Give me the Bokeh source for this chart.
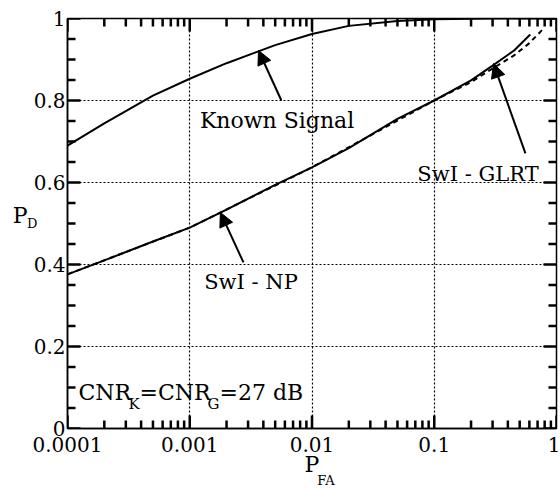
import math
from bokeh.plotting import figure
from bokeh.models import FixedTicker, LinearAxis, LogAxis, Label, Arrow, NormalHead
from bokeh.embed import file_html
from bokeh.resources import INLINE

# ---- data ----
x_lo, x_hi = 0.0001, 1.0
y_lo, y_hi = 0.0, 1.0
x_major = [0.0001, 0.001, 0.01, 0.1, 1.0]
x_major_labels = ["0.0001", "0.001", "0.01", "0.1", "1"]
x_minor = [m * d for d in [0.0001, 0.001, 0.01, 0.1] for m in range(2, 10)]
y_major = [0.0, 0.2, 0.4, 0.6, 0.8, 1.0]
y_major_labels = ["0", "0.2", "0.4", "0.6", "0.8", "1"]
y_minor = [0.05, 0.1, 0.15, 0.25, 0.3, 0.35, 0.45, 0.5, 0.55,
           0.65, 0.7, 0.75, 0.85, 0.9, 0.95]

known_pfa = [0.0001, 0.0002, 0.0005, 0.001, 0.002, 0.005, 0.01, 0.02, 0.05, 0.1, 0.3, 1.0]
known_pd = [0.690, 0.744, 0.812, 0.853, 0.891, 0.935, 0.962, 0.982, 0.994, 0.998, 1.0, 1.0]

np_pfa = [0.0001, 0.0002, 0.0005, 0.001, 0.002, 0.005, 0.01, 0.02, 0.05, 0.1, 0.2, 0.3, 0.45, 0.61]
np_pd = [0.376, 0.410, 0.456, 0.490, 0.534, 0.594, 0.637, 0.684, 0.755, 0.800, 0.849, 0.885, 0.922, 0.961]

glrt_pfa = [0.0001, 0.001, 0.01, 0.1, 0.2, 0.3, 0.45, 0.6, 0.78]
glrt_pd = [0.376, 0.490, 0.637, 0.800, 0.845, 0.878, 0.910, 0.940, 0.975]

SERIF = "DejaVu Serif"

p = figure(x_axis_type="log", x_range=(x_lo, x_hi), y_range=(y_lo, y_hi),
           frame_width=489, frame_height=410,
           min_border_left=67, min_border_right=4, min_border_top=18, min_border_bottom=71,
           output_backend="svg", toolbar_location=None,
           background_fill_color="white", border_fill_color="white")
p.outline_line_color = "black"
p.outline_line_width = 1.5

xt = FixedTicker(ticks=x_major, minor_ticks=x_minor)
yt = FixedTicker(ticks=y_major, minor_ticks=y_minor)

bottom = p.below[0]
left = p.left[0]
bottom.ticker = xt
left.ticker = yt
bottom.major_label_overrides = dict(zip(x_major, x_major_labels))
left.major_label_overrides = dict(zip(y_major, y_major_labels))
for ax in [bottom, left]:
    ax.major_label_text_font_size = "20px"
    ax.major_label_text_font = SERIF
    ax.major_label_text_color = "black"
    ax.axis_line_color = "black"
    ax.axis_line_width = 1.5
    ax.major_tick_in = 0
    ax.major_tick_out = 0
    ax.minor_tick_in = 0
    ax.minor_tick_out = 0
bottom.major_label_standoff = 8
left.major_label_standoff = 2

# x axis label "P" (its subscript is a second, label-only axis)
bottom.axis_label = "P"
bottom.axis_label_text_font = SERIF
bottom.axis_label_text_font_size = "22px"
bottom.axis_label_text_font_style = "normal"
bottom.axis_label_text_color = "black"
bottom.axis_label_standoff = -3

def text_axis(kind, side, tick, text, size, standoff):
    ax = kind(ticker=FixedTicker(ticks=[tick], minor_ticks=[]),
              major_label_overrides={tick: text},
              major_label_text_font=SERIF, major_label_text_font_size=size,
              major_label_text_color="black", major_label_standoff=standoff,
              axis_line_color=None, major_tick_line_color=None, minor_tick_line_color=None,
              major_tick_in=0, major_tick_out=0, minor_tick_in=0, minor_tick_out=0)
    p.add_layout(ax, side)
    return ax

text_axis(LogAxis, "below", 0.013, "FA", "13px", -7)
text_axis(LinearAxis, "left", 0.5, "D", "13px", -7)
text_axis(LinearAxis, "left", 0.52, "P", "22px", -3)

# dotted grid
p.xgrid.ticker = xt
p.ygrid.ticker = yt
for g in [p.xgrid[0], p.ygrid[0]]:
    g.grid_line_color = "black"
    g.grid_line_dash = "2 2"
    g.grid_line_width = 1.2

# inward ticks on all four sides: dash markers centred on the frame edge,
# the outer half is clipped away by the frame
def ticks(xs, ys, size, angle):
    p.scatter(x=xs, y=ys, marker="dash", size=size, angle=angle,
              line_color="#000000", line_width=2.5)

ticks([x_lo] * len(y_minor), y_minor, 16, 0)
ticks([x_hi] * len(y_minor), y_minor, 16, 0)
ticks([x_lo] * len(y_major), y_major, 26, 0)
ticks([x_hi] * len(y_major), y_major, 26, 0)
ticks(x_minor, [y_lo] * len(x_minor), 16, math.pi / 2)
ticks(x_minor, [y_hi] * len(x_minor), 16, math.pi / 2)
ticks(x_major, [y_lo] * len(x_major), 26, math.pi / 2)
ticks(x_major, [y_hi] * len(x_major), 26, math.pi / 2)

# curves
p.line(known_pfa, known_pd, line_color="black", line_width=2)
p.line(np_pfa, np_pd, line_color="black", line_width=2)
p.line(glrt_pfa, glrt_pd, line_color="black", line_width=2, line_dash="5 4")

# arrows
for (x0, y0, x1, y1) in [(0.00562, 0.80, 0.00365, 0.922),
                         (0.00275, 0.405, 0.00178, 0.527),
                         (0.557, 0.671, 0.305, 0.890)]:
    p.add_layout(Arrow(end=NormalHead(size=14, fill_color="black", line_color="black"),
                       x_start=x0, y_start=y0, x_end=x1, y_end=y1,
                       line_color="black", line_width=2))

def lab(text, x, y, size, align="left", xo=0, yo=0):
    p.add_layout(Label(x=x, y=y, text=text, x_offset=xo, y_offset=yo,
                       text_font=SERIF, text_font_size=size, text_color="black",
                       text_align=align, text_baseline="middle"))

lab("Known Signal", 0.00518, 0.751, "22px", align="center")
lab("SwI - NP", 0.00317, 0.357, "21px", align="center")
lab("SwI - GLRT", 0.228, 0.621, "21px", align="center")

# CNR annotation
lab("CNR", 1.23e-4, 0.089, "22px")
lab("K", 1.23e-4, 0.089, "15px", xo=50, yo=-12)
lab("=CNR", 1.23e-4, 0.089, "22px", xo=61)
lab("G", 1.23e-4, 0.089, "15px", xo=129, yo=-12)
lab("=27 dB", 1.23e-4, 0.089, "22px", xo=141)

open("out.html", "w").write(file_html(p, INLINE))
